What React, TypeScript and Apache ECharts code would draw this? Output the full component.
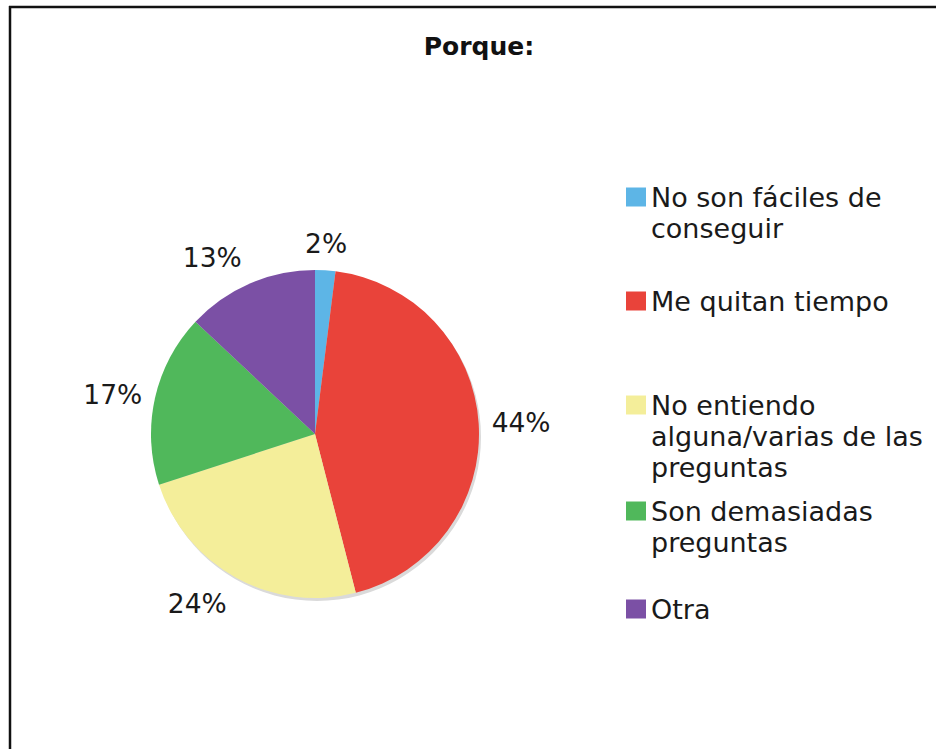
import React, { useEffect, useRef } from "react";
import * as echarts from "echarts";

const categories = [
  "No son fáciles de conseguir",
  "Me quitan tiempo",
  "No entiendo alguna/varias de las preguntas",
  "Son demasiadas preguntas",
  "Otra",
];
const values = [2, 44, 24, 17, 13];
const legendLines = [
  ["No son fáciles de", "conseguir"],
  ["Me quitan tiempo"],
  ["No entiendo", "alguna/varias de las", "preguntas"],
  ["Son demasiadas", "preguntas"],
  ["Otra"],
];
const colors = ["#5db5e6", "#e9433a", "#f4ee9a", "#50b85b", "#7b50a5"];
const title = "Porque:";

const FONT = "'DejaVu Sans', Verdana, sans-serif";
const CX = 315;
const CY = 434;
const R = 164;
const LH = 31;
const legendCenters = [197, 301, 405, 511, 609];

export default function App() {
  const ref = useRef<HTMLDivElement>(null);
  useEffect(() => {
    if (!ref.current) return;
    const chart = echarts.init(ref.current, null, { renderer: "svg" });
    const total = values.reduce((a, b) => a + b, 0);

    const labelLayout = (params: any) => {
      const i = params.dataIndex;
      let before = 0;
      for (let k = 0; k < i; k++) before += values[k];
      const mid = ((before + values[i] / 2) / total) * Math.PI * 2;
      const ux = Math.sin(mid);
      const uy = -Math.cos(mid);
      const rr = R + 13;
      const px = CX + rr * ux;
      const py = CY + rr * uy;
      const hw = params.labelRect.width / 2;
      const hh = 14;
      let dx = 0;
      let dy = 0;
      const clamp = (v: number) => Math.max(0, Math.min(1, v));
      if (Math.abs(ux) >= Math.abs(uy)) {
        dx = Math.sign(ux) * hw;
        const dev = (Math.asin(Math.abs(uy)) * 180) / Math.PI;
        dy = Math.sign(uy) * hh * clamp((dev - 12) / 10);
      } else {
        dy = Math.sign(uy) * hh;
        const dev = (Math.asin(Math.abs(ux)) * 180) / Math.PI;
        dx = Math.sign(ux) * (hw + 3) * clamp((dev - 12) / 10);
      }
      return { x: px + dx, y: py + dy, align: "center", verticalAlign: "middle" };
    };

    const legends = categories.map((name, i) => {
      const n = legendLines[i].length;
      return {
        data: [name],
        orient: "vertical",
        left: 626,
        top: legendCenters[i] - ((2 * n - 1) * LH) / 2,
        padding: 0,
        icon: "rect",
        itemWidth: 20,
        itemHeight: 19,
        selectedMode: false,
        formatter: (nm: string) => {
          const lines = legendLines[categories.indexOf(nm)];
          const blanks = new Array(lines.length - 1).fill(" ");
          return blanks.concat(lines).join("\n");
        },
        textStyle: {
          fontFamily: FONT,
          fontSize: 27,
          lineHeight: LH,
          color: "#1a1a1a",
        },
      };
    });

    chart.setOption({
      animation: false,
      backgroundColor: "#ffffff",
      color: colors,
      title: {
        text: title,
        left: 474,
        textAlign: "center",
        top: 29,
        textStyle: { fontFamily: FONT, fontSize: 25, fontWeight: "bold", color: "#111" },
      },
      legend: legends,
      graphic: [
        {
          type: "line",
          shape: { x1: 10, y1: 6, x2: 10, y2: 749 },
          style: { stroke: "#111", lineWidth: 2.5 },
          silent: true,
        },
        {
          type: "line",
          shape: { x1: 9, y1: 7, x2: 936, y2: 7 },
          style: { stroke: "#111", lineWidth: 2.5 },
          silent: true,
        },
      ],
      series: [
        {
          type: "pie",
          name: "shadow",
          silent: true,
          center: [CX + 2, CY + 3],
          radius: R,
          z: 1,
          label: { show: false },
          labelLine: { show: false },
          itemStyle: { color: "#dadada" },
          data: [{ name: "_shadow", value: 1 }],
        },
        {
          type: "pie",
          center: [CX, CY],
          radius: R,
          startAngle: 90,
          clockwise: true,
          z: 2,
          avoidLabelOverlap: false,
          itemStyle: { borderWidth: 0 },
          label: {
            show: true,
            position: "outside",
            formatter: (p: any) => Math.round(p.percent) + "%",
            fontFamily: FONT,
            fontSize: 26.5,
            color: "#1a1a1a",
          },
          labelLine: { show: false },
          labelLayout,
          data: categories.map((c, i) => ({ name: c, value: values[i] })),
        },
      ],
    });
    return () => chart.dispose();
  }, []);
  return (
    <div
      ref={ref}
      style={{ position: "absolute", left: 0, top: 0, width: 936, height: 749 }}
    />
  );
}
